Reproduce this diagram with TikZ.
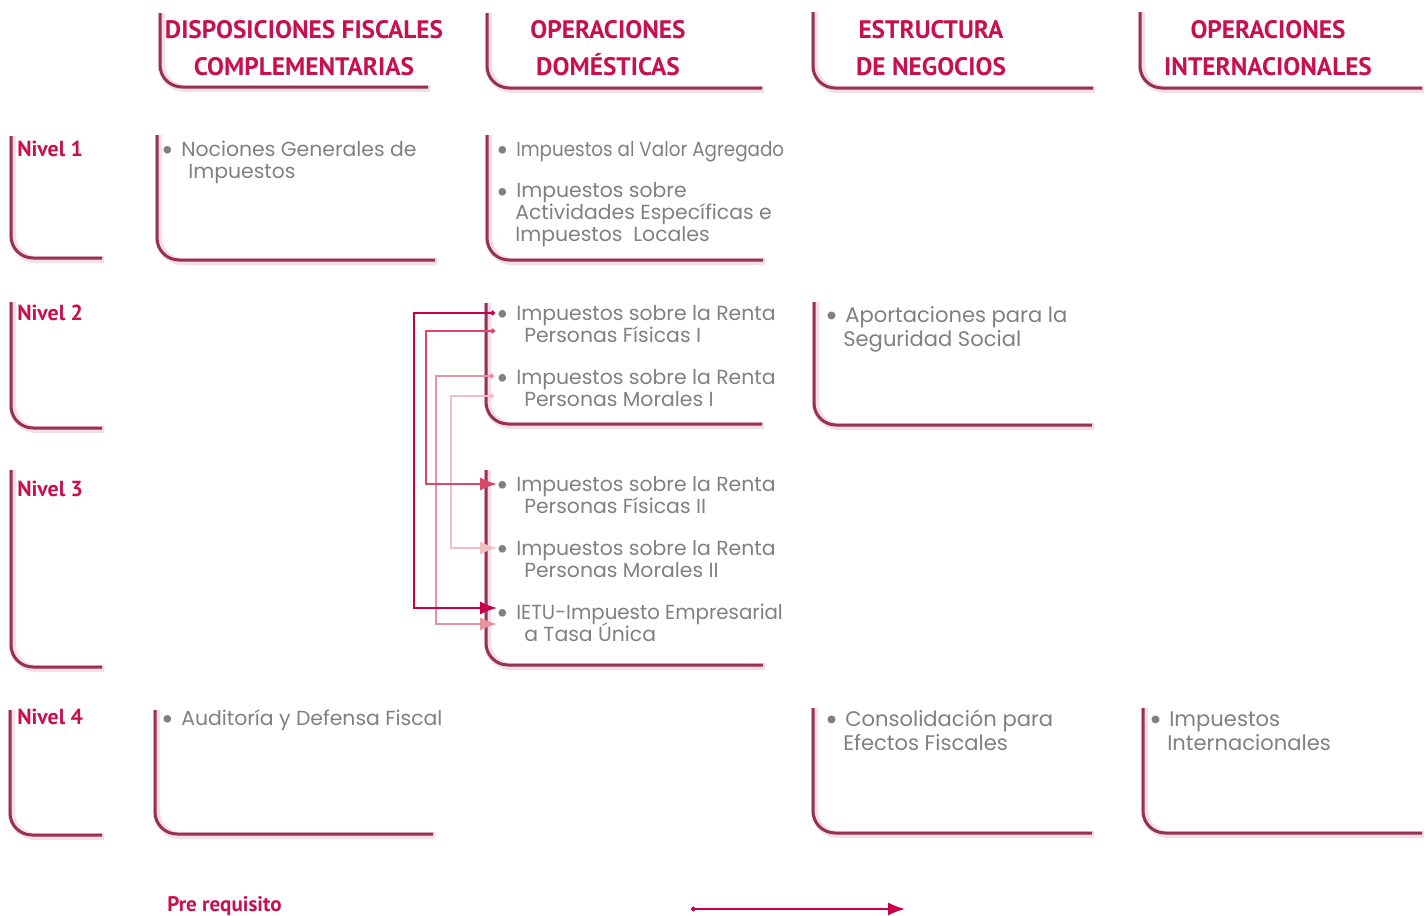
\documentclass[tikz,border=0pt]{standalone}
\usepackage{fontspec}
\setmainfont{Poppins}
\newfontfamily\headfont{PT Sans}
\usetikzlibrary{arrows.meta}
\setlength{\lineskiplimit}{-10pt}
\definecolor{crimson}{RGB}{200,16,78}
\definecolor{marco}{RGB}{150,48,84}
\definecolor{sombra}{RGB}{226,160,184}
\definecolor{gris}{RGB}{128,128,132}
\definecolor{preA}{RGB}{200,0,74}
\definecolor{preB}{RGB}{216,72,104}
\definecolor{preC}{RGB}{232,146,158}
\definecolor{preD}{RGB}{242,190,194}
\def\marco(#1,#2)(#3,#4){%
  \draw[sombra, line width=1.8mm, rounded corners=6mm, opacity=0.35] (#1+1.5,#2) |- (#3+2,#4+1.5);
  \draw[marco, line width=0.75mm, rounded corners=5.5mm] (#1,#2) |- (#3,#4);}
\def\vin{\makebox[1.5mm][c]{\raisebox{-0.4ex}{\scalebox{1.5}{\textbullet}}}\hspace{2.5mm}}
\tikzset{
  head/.style={font=\headfont\bfseries\fontsize{18}{26.3}\selectfont, text=crimson, align=center, inner sep=0},
  nivel/.style={font=\headfont\bfseries\fontsize{15.5}{15.5}\selectfont, text=crimson, anchor=base west, inner sep=0},
  curso/.style={font=\fontsize{14.5}{15.3}\selectfont, text=gris, align=left, anchor=base west, inner sep=0},
  cursob/.style={curso, font=\fontsize{15}{17}\selectfont},
  prereq/.style={line width=0.4mm, {Circle[length=1.2mm]}-{Latex[length=4.2mm,width=3.2mm]}}
}
\begin{document}
\begin{tikzpicture}[x=0.25mm, y=-0.25mm]
			%%%%% START %%%%%
			\useasboundingbox (0,0) rectangle (1426,916);
			
			% encabezados
			\marco(160,13)(428,87)
			\marco(487,13)(762,88)
			\marco(813,12)(1093,88)
			\marco(1140,12)(1422,88)
			\node[head] (disp) at (304,48) {DISPOSICIONES FISCALES\\COMPLEMENTARIAS};
			\node[head] (dom) at (608,48) {OPERACIONES\\DOMÉSTICAS};
			\node[head] (est) at (931,48) {ESTRUCTURA\\DE NEGOCIOS};
			\node[head] (inter) at (1268,48) {OPERACIONES\\INTERNACIONALES};
			
			% niveles
			\marco(11,136)(102,258)
			\marco(11,302)(102,428)
			\marco(11,470)(102,667)
			\marco(10,710)(102,835)
			\node[nivel] (n1) at (17,156) {Nivel 1};
			\node[nivel] (n2) at (17,320) {Nivel 2};
			\node[nivel] (n3) at (17,496) {Nivel 3};
			\node[nivel] (n4) at (17,724) {Nivel 4};
			
			% cajas de cursos
			\marco(157,135)(435,260)
			\marco(487,135)(763,260)
			\marco(486,303)(762,424)
			\marco(814,302)(1092,425)
			\marco(486,470)(763,665)
			\marco(155,710)(433,834)
			\marco(813,708)(1092,833)
			\marco(1143,708)(1422,833)
			
			% flechas de prerrequisito
			\coordinate (pfIa) at (495,313);
			\coordinate (pfIb) at (495,331);
			\coordinate (pmIa) at (494,376);
			\coordinate (pmIb) at (494,396);
			\coordinate (pfIIin) at (497,484);
			\coordinate (pmIIin) at (497,548);
			\coordinate (ietuA) at (497,608);
			\coordinate (ietuB) at (497,624);
			\draw[prereq, preD] (pmIb) -- ++(-43,0) |- (pmIIin);
			\draw[prereq, preC] (pmIa) -- ++(-58,0) |- (ietuB);
			\draw[prereq, preB] (pfIb) -- ++(-69,0) |- (pfIIin);
			\draw[prereq, preA] (pfIa) -- ++(-81,0) |- (ietuA);
			
			% nivel 1 (base = ultima linea)
			\node[curso] (nociones) at (165,178) {\vin Nociones Generales de\\\hspace{5.75mm}Impuestos};
			\node[curso] (iva) at (500,156) {\vin\scalebox{0.9}[1]{Impuestos al Valor Agregado}};
			\node[curso] (iesps) at (500,241) {\vin Impuestos sobre\\\hspace{3.75mm}Actividades Específicas e\\\hspace{3.75mm}Impuestos\ \ Locales};
			
			% nivel 2
			\node[curso] (pfI) at (500,342) {\vin Impuestos sobre la Renta\\\hspace{6mm}Personas Físicas I};
			\node[curso] (pmI) at (500,406) {\vin Impuestos sobre la Renta\\\hspace{6mm}Personas Morales I};
			\node[cursob] (imss) at (829,346) {\vin Aportaciones para la\\\hspace{3.5mm}Seguridad Social};
			
			% nivel 3
			\node[curso] (pfII) at (500,513) {\vin Impuestos sobre la Renta\\\hspace{6mm}Personas Físicas II};
			\node[curso] (pmII) at (500,577) {\vin Impuestos sobre la Renta\\\hspace{6mm}Personas Morales II};
			\node[curso] (ietu) at (500,641) {\vin \scalebox{0.97}[1]{IETU-Impuesto Empresarial}\\\hspace{6mm}a Tasa Única};
			
			% nivel 4
			\node[curso] (audit) at (165,725) {\vin Auditoría y Defensa Fiscal};
			\node[cursob] (consol) at (829,750) {\vin Consolidación para\\\hspace{3.5mm}Efectos Fiscales};
			\node[cursob] (intl) at (1153,750) {\vin Impuestos\\\hspace{3.5mm}Internacionales};
			
			% leyenda
			\node[nivel, font=\headfont\bfseries\fontsize{15}{15}\selectfont] (ley) at (167,911) {Pre requisito};
			\coordinate (leyA) at (691,909);
			\coordinate (leyB) at (905,909);
			\draw[prereq, preA] (leyA) -- (leyB);
			%%%%% END %%%%%
\end{tikzpicture}
\end{document}
